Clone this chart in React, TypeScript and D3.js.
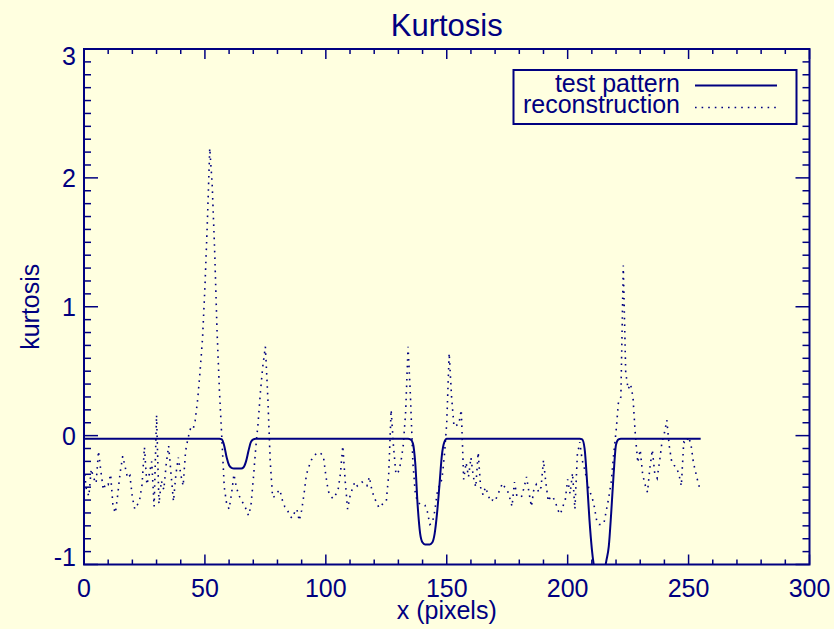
import React from 'react';
import * as d3 from 'd3';

const titleText = 'Kurtosis';
const xLabel = 'x (pixels)';
const yLabel = 'kurtosis';
const xTicks = [0, 50, 100, 150, 200, 250, 300];
const yTicks = [-1, 0, 1, 2, 3];
const legendNames = ['test pattern', 'reconstruction'];

// test pattern: points (pixel, kurtosis)
const patternX = [0, 30, 56, 57, 58, 59, 60, 61, 62, 65, 66, 67, 68, 69, 70, 71, 100, 134, 135, 136, 137, 138, 139, 140, 141, 143, 144, 145, 146, 147, 148, 149, 150, 180, 205, 206, 207, 208, 209, 210, 211, 212, 213, 214, 215, 216, 217, 218, 219, 220, 221, 222, 255];
const patternY = [-0.025, -0.025, -0.025, -0.03, -0.08, -0.17, -0.23, -0.25, -0.255, -0.255, -0.245, -0.2, -0.12, -0.05, -0.03, -0.025, -0.025, -0.025, -0.03, -0.06, -0.22, -0.55, -0.76, -0.83, -0.845, -0.845, -0.83, -0.76, -0.6, -0.38, -0.15, -0.05, -0.025, -0.025, -0.025, -0.03, -0.1, -0.35, -0.65, -0.88, -1.03, -1.12, -1.15, -1.14, -1.07, -0.97, -0.86, -0.6, -0.3, -0.07, -0.03, -0.025, -0.025];

// reconstruction: one value per pixel 0..255
const reconstruction = [
  -0.25, -0.42, -0.47, -0.26, -0.33, -0.37, -0.12, -0.28, -0.42, -0.37,
  -0.38, -0.3, -0.55, -0.6, -0.45, -0.28, -0.16, -0.24, -0.33, -0.31,
  -0.48, -0.57, -0.54, -0.5, -0.38, -0.09, -0.38, -0.3, -0.2, -0.55,
  0.16, -0.53, -0.35, -0.42, -0.22, -0.08, -0.3, -0.51, -0.3, -0.17,
  -0.3, -0.39, -0.12, -0.02, 0.05, 0.04, 0.12, 0.28, 0.5, 0.75,
  1.15, 1.65, 2.23, 1.95, 1.45, 0.82, 0.35, -0.02, -0.4, -0.53,
  -0.57, -0.45, -0.3, -0.4, -0.46, -0.5, -0.53, -0.57, -0.62, -0.55,
  -0.34, -0.1, 0.1, 0.35, 0.55, 0.69, 0.3, -0.2, -0.48, -0.47,
  -0.44, -0.42, -0.5, -0.55, -0.57, -0.62, -0.64, -0.6, -0.57, -0.66,
  -0.58, -0.45, -0.3, -0.24, -0.19, -0.16, -0.14, -0.13, -0.14, -0.16,
  -0.31, -0.43, -0.47, -0.49, -0.46, -0.43, -0.3, -0.08, -0.35, -0.57,
  -0.47, -0.41, -0.36, -0.39, -0.37, -0.36, -0.38, -0.39, -0.32, -0.42,
  -0.48, -0.52, -0.56, -0.54, -0.52, -0.51, -0.3, 0.2, -0.09, -0.3,
  -0.28, -0.21, -0.08, 0.18, 0.69, 0.3, -0.21, -0.45, -0.52, -0.53,
  -0.53, -0.54, -0.59, -0.69, -0.68, -0.59, -0.45, -0.38, -0.34, -0.16,
  0.1, 0.64, 0.3, 0.07, 0.08, 0.09, 0.2, -0.34, -0.21, -0.32,
  -0.17, -0.32, -0.4, -0.13, -0.4, -0.46, -0.4, -0.45, -0.51, -0.5,
  -0.51, -0.46, -0.42, -0.37, -0.4, -0.42, -0.48, -0.55, -0.36, -0.47,
  -0.48, -0.47, -0.4, -0.32, -0.44, -0.55, -0.42, -0.38, -0.44, -0.4,
  -0.19, -0.37, -0.51, -0.47, -0.48, -0.52, -0.58, -0.61, -0.55, -0.5,
  -0.34, -0.45, -0.29, -0.57, -0.15, -0.05, -0.19, -0.26, -0.35, -0.43,
  -0.47, -0.55, -0.66, -0.69, -0.69, -0.68, -0.58, -0.48, -0.36, -0.15,
  0.03, 0.26, 0.3, 1.32, 0.49, 0.36, 0.4, 0.3, 0.0, -0.21,
  -0.11, -0.3, -0.38, -0.44, -0.25, -0.11, -0.29, -0.33, -0.2, -0.05,
  0.02, 0.12, -0.08, -0.2, -0.23, -0.25, -0.3, -0.39, -0.05, -0.06,
  -0.01, -0.07, -0.21, -0.29, -0.37, -0.43
];

const W = 834;
const H = 629;
const INK = '#000080';
const BG = '#ffffe0';
const FONT = '"Liberation Sans", Arial, Helvetica, sans-serif';

export default function App() {
  const left = 84, right = 809.5, top = 49, bottom = 564.5;
  const x = d3.scaleLinear().domain([0, 300]).range([left, right]);
  const y = d3.scaleLinear().domain([-1, 3]).range([bottom, top]);

  const xMinor = d3.range(0, 301, 10);
  const yMinor = d3.range(0, 41, 1).map((i) => -1 + i * 0.1);

  const patternPts: [number, number][] = patternX.map((v, i) => [v, patternY[i]]);
  const reconPts: [number, number][] = reconstruction.map((v, i) => [i, v]);

  const solidLine = d3.line<[number, number]>().x((d) => x(d[0])).y((d) => y(d[1])).curve(d3.curveMonotoneX);
  const dotLine = d3.line<[number, number]>().x((d) => x(d[0])).y((d) => y(d[1]));

  const isMajorX = (v: number) => v % 50 === 0;
  const isMajorY = (v: number) => Math.abs(v - Math.round(v)) < 1e-6;

  const yLabelPos = (v: number) => {
    let p = y(v);
    if (v === 3) p += 7;
    if (v === -1) p -= 8;
    return p;
  };

  return (
    <svg width={W} height={H} style={{ position: 'absolute', left: 0, top: 0 }} fontFamily={FONT}>
      <rect x={0} y={0} width={W} height={H} fill={BG} />
      <defs>
        <clipPath id="plotclip">
          <rect x={left} y={top} width={right - left} height={bottom - top} />
        </clipPath>
      </defs>

      <text x={(left + right) / 2} y={36} textAnchor="middle" fontSize={31} fill={INK}>{titleText}</text>

      {/* ticks */}
      <g stroke={INK} strokeWidth={1.5}>
        {xMinor.map((v) => {
          const len = isMajorX(v) ? 10 : 5;
          const px = x(v);
          return (
            <g key={'xt' + v}>
              <line x1={px} x2={px} y1={bottom} y2={bottom - len} />
              <line x1={px} x2={px} y1={top} y2={top + len} />
            </g>
          );
        })}
        {yMinor.map((v, i) => {
          const len = isMajorY(v) ? 14 : 7;
          const py = y(v);
          return (
            <g key={'yt' + i}>
              <line x1={left} x2={left + len} y1={py} y2={py} />
              <line x1={right} x2={right - len} y1={py} y2={py} />
            </g>
          );
        })}
      </g>

      <rect x={left} y={top} width={right - left} height={bottom - top} fill="none" stroke={INK} strokeWidth={2} />

      {/* tick labels */}
      {xTicks.map((v) => (
        <text key={'xl' + v} x={x(v)} y={597} textAnchor="middle" fontSize={25} fill={INK}>{v}</text>
      ))}
      {yTicks.map((v) => (
        <text key={'yl' + v} x={76} y={yLabelPos(v) + 9} textAnchor="end" fontSize={25} fill={INK}>{v}</text>
      ))}

      <text x={(left + right) / 2} y={619} textAnchor="middle" fontSize={25} fill={INK}>{xLabel}</text>
      <text transform={`translate(39, ${(top + bottom) / 2}) rotate(-90)`} textAnchor="middle" fontSize={25} fill={INK}>{yLabel}</text>

      {/* data */}
      <g clipPath="url(#plotclip)">
        <path d={solidLine(patternPts) || ''} fill="none" stroke={INK} strokeWidth={2} />
        <path d={dotLine(reconPts) || ''} fill="none" stroke={INK} strokeWidth={1.6} strokeDasharray="1.6 5" />
      </g>

      {/* legend */}
      <rect x={513.5} y={70} width={283} height={54} fill="none" stroke={INK} strokeWidth={2} />
      <text x={680} y={92} textAnchor="end" fontSize={25} fill={INK}>{legendNames[0]}</text>
      <text x={680} y={113} textAnchor="end" fontSize={25} fill={INK}>{legendNames[1]}</text>
      <line x1={695} x2={777} y1={85.5} y2={85.5} stroke={INK} strokeWidth={2} />
      <line x1={695} x2={777} y1={107.5} y2={107.5} stroke={INK} strokeWidth={1.6} strokeDasharray="1.6 5" />
    </svg>
  );
}
